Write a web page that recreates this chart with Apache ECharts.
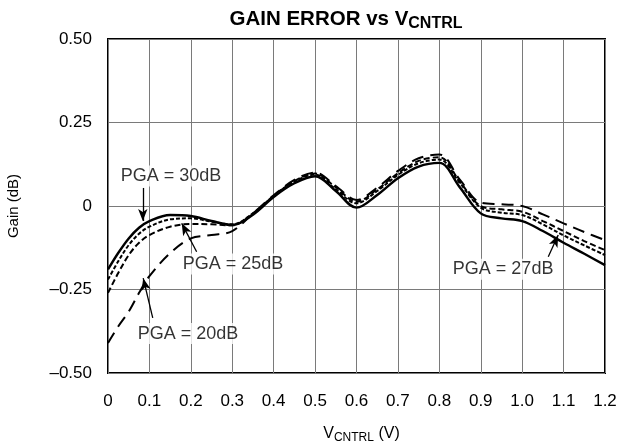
<!DOCTYPE html>
<html>
<head>
<meta charset="utf-8">
<script src="https://cdn.jsdelivr.net/npm/echarts@6/dist/echarts.min.js"></script>
<style>
html,body{margin:0;padding:0;background:#fff;}
#chart{width:629px;height:442px;}
</style>
</head>
<body>
<div id="chart"></div>
<script>
// V_CNTRL (V)
const vcntrl = [0, 0.025, 0.05, 0.075, 0.1, 0.15, 0.2, 0.25, 0.3, 0.35, 0.4, 0.45, 0.5, 0.55, 0.6, 0.65, 0.7, 0.75, 0.8, 0.85, 0.9, 0.95, 1.0, 1.05, 1.1, 1.15, 1.2];
// Gain error (dB)
const pga30 = [-0.19, -0.14, -0.097, -0.065, -0.045, -0.027, -0.030, -0.045, -0.057, -0.026, 0.027, 0.068, 0.089, 0.045, -0.005, 0.033, 0.083, 0.118, 0.129, 0.055, -0.022, -0.037, -0.045, -0.075, -0.11, -0.143, -0.177];
const pga27 = [-0.22, -0.165, -0.117, -0.083, -0.062, -0.040, -0.037, -0.047, -0.055, -0.022, 0.030, 0.073, 0.094, 0.050, 0.008, 0.045, 0.093, 0.128, 0.139, 0.068, -0.005, -0.020, -0.027, -0.055, -0.088, -0.118, -0.147];
const pga25 = [-0.26, -0.20, -0.147, -0.110, -0.087, -0.062, -0.054, -0.055, -0.058, -0.022, 0.030, 0.075, 0.097, 0.056, 0.013, 0.050, 0.098, 0.135, 0.146, 0.072, 0.000, -0.010, -0.017, -0.045, -0.075, -0.105, -0.132];
const pga20 = [-0.41, -0.36, -0.316, -0.26, -0.21, -0.141, -0.097, -0.087, -0.075, -0.022, 0.032, 0.078, 0.100, 0.060, 0.018, 0.055, 0.105, 0.143, 0.154, 0.078, 0.010, 0.005, 0.000, -0.025, -0.052, -0.078, -0.102];
const xTicks = [0, 0.1, 0.2, 0.3, 0.4, 0.5, 0.6, 0.7, 0.8, 0.9, 1.0, 1.1, 1.2];
const yTicks = [-0.5, -0.25, 0, 0.25, 0.5];
// annotations: label text and its data position, arrow from/to (data coords)
const labelTexts = ['PGA = 30dB', 'PGA = 25dB', 'PGA = 20dB', 'PGA = 27dB'];
const labelPos = [[0.152, 0.090], [0.302, -0.174], [0.193, -0.382], [0.954, -0.189]];
const arrowFrom = [[0.084, 0.054], [0.214, -0.137], [0.108, -0.335], [1.063, -0.152]];
const arrowTo = [[0.084, -0.045], [0.178, -0.052], [0.085, -0.216], [1.087, -0.087]];

const FONT = 'Liberation Sans, Arial, Helvetica, sans-serif';
const chart = echarts.init(document.getElementById('chart'), null, {renderer: 'canvas'});

function pairs(ys) { return vcntrl.map((x, i) => [x, ys[i]]); }
function lineSeries(name, ys, type, width) {
  return {
    name: name, type: 'line', data: pairs(ys), smooth: 0.35,
    showSymbol: false, symbol: 'none', z: 3,
    lineStyle: {color: '#000', width: width, type: type, cap: 'butt'}
  };
}

const option = {
  animation: false,
  backgroundColor: '#fff',
  title: {
    text: 'GAIN ERROR vs V{sub|CNTRL}',
    left: 341, top: 2, textAlign: 'center',
    textStyle: {
      fontFamily: FONT, fontSize: 20.5, fontWeight: 'bold', color: '#000',
      rich: {sub: {fontFamily: FONT, fontSize: 16, fontWeight: 'bold', color: '#000', verticalAlign: 'bottom', padding: [9, 0, 0, 0]}}
    }
  },
  grid: {left: 108, right: 24, top: 39, bottom: 69, containLabel: false, outerBoundsMode: 'none',
    show: true, borderColor: '#000', borderWidth: 2, backgroundColor: 'transparent'},
  xAxis: {
    type: 'value', min: 0, max: 1.2, interval: 0.1,
    name: 'V{sub|CNTRL} (V)', nameLocation: 'middle', nameGap: 51,
    nameTextStyle: {fontFamily: FONT, fontSize: 16, color: '#000', padding: [0, 0, 0, 10],
      rich: {sub: {fontFamily: FONT, fontSize: 12, color: '#000', verticalAlign: 'bottom', padding: [8, 0, 0, 0]}}},
    axisLine: {show: false}, axisTick: {show: false},
    axisLabel: {fontFamily: FONT, fontSize: 17, color: '#000', margin: 20,
      formatter: v => {
        const t = xTicks.find(k => Math.abs(k - v) < 1e-6);
        if (t === undefined) return '';
        return t === 0 ? '0' : t.toFixed(1);
      }},
    splitLine: {show: true, lineStyle: {color: '#7a7a7a', width: 1}}
  },
  yAxis: {
    type: 'value', min: -0.5, max: 0.5, interval: 0.25,
    name: 'Gain (dB)', nameLocation: 'middle', nameGap: 87,
    nameTextStyle: {fontFamily: FONT, fontSize: 15, color: '#000'},
    axisLine: {show: false}, axisTick: {show: false},
    axisLabel: {fontFamily: FONT, fontSize: 17, color: '#000', margin: 16,
      formatter: v => {
        const t = yTicks.find(k => Math.abs(k - v) < 1e-6);
        if (t === undefined) return '';
        if (t === 0) return '0';
        return (t < 0 ? '\u2013' : '') + Math.abs(t).toFixed(2);
      }},
    splitLine: {show: true, lineStyle: {color: '#7a7a7a', width: 1}}
  },
  series: [
    lineSeries('PGA = 30dB', pga30, 'solid', 2.4),
    lineSeries('PGA = 27dB', pga27, [4, 2], 2),
    lineSeries('PGA = 25dB', pga25, [6, 3], 2),
    lineSeries('PGA = 20dB', pga20, [12, 7], 2),
    {
      name: 'labels', type: 'scatter', symbolSize: 0, z: 5,
      data: labelPos.map((p, i) => ({value: p, name: labelTexts[i]})),
      label: {show: true, position: 'inside', formatter: p => p.name,
        fontFamily: FONT, fontSize: 18, color: '#000',
        backgroundColor: '#fff', padding: [2, 3, 1, 3]},
      emphasis: {disabled: true}
    },
    {
      name: 'arrows', type: 'line', data: [], z: 4,
      markLine: {
        silent: true, symbol: ['none', 'arrow'], symbolSize: [7, 12],
        label: {show: false},
        lineStyle: {color: '#000', width: 1.3, type: 'solid'},
        data: arrowFrom.map((f, i) => [{coord: f}, {coord: arrowTo[i]}])
      }
    }
  ]
};
chart.setOption(option);
</script>
</body>
</html>
